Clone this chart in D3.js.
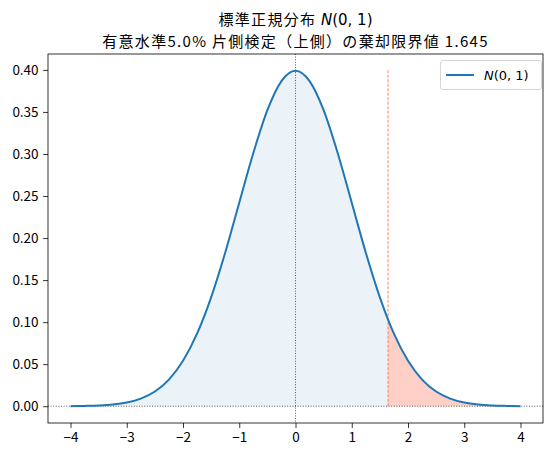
<!DOCTYPE html>
<html>
<head>
<meta charset="utf-8">
<style>
  body { margin: 0; background: #fff; }
  svg text { font-family: "Noto Sans CJK JP", sans-serif; fill: #000; }
  .math { font-family: "DejaVu Sans", sans-serif; }
</style>
</head>
<body>
<svg class="drawing"></svg>
<script src="https://d3js.org/d3.v7.min.js"></script>
<script>
// values (standard normal density)
var xs = [-4, -3.75, -3.5, -3.25, -3, -2.75, -2.5, -2.25, -2, -1.75, -1.5, -1.25, -1, -0.75, -0.5, -0.25,
          0, 0.25, 0.5, 0.75, 1, 1.25, 1.5, 1.645, 1.75, 2, 2.25, 2.5, 2.75, 3, 3.25, 3.5, 3.75, 4];
var ys = [0.0001, 0.0004, 0.0009, 0.002, 0.0044, 0.0091, 0.0175, 0.0317, 0.054, 0.0863, 0.1295, 0.1826, 0.242, 0.3011, 0.3521, 0.3867,
          0.3989, 0.3867, 0.3521, 0.3011, 0.242, 0.1826, 0.1295, 0.1031, 0.0863, 0.054, 0.0317, 0.0175, 0.0091, 0.0044, 0.002, 0.0009, 0.0004, 0.0001];
var critical = 1.645;
var xTicks = [-4, -3, -2, -1, 0, 1, 2, 3, 4];
var yTicks = [0, 0.05, 0.10, 0.15, 0.20, 0.25, 0.30, 0.35, 0.40];

var w = 553, h = 456;
var axLeft = 48, axRight = 543, axTop = 54, axBottom = 423;
var blue = '#1f77b4';

var pts = xs.map(function(x, i) { return [x, ys[i]]; });

var svg = d3.select('.drawing').attr('width', w).attr('height', h);

var x = d3.scaleLinear().domain([-4.4, 4.4]).range([axLeft, axRight]);
var y = d3.scaleLinear().domain([-0.01995, 0.4189]).range([axBottom, axTop]);

var area = d3.area()
    .x(d => x(d[0]))
    .y0(y(0))
    .y1(d => y(d[1]))
    .curve(d3.curveMonotoneX);
var line = d3.line()
    .x(d => x(d[0]))
    .y(d => y(d[1]))
    .curve(d3.curveMonotoneX);

svg.append('path')
    .datum(pts.filter(d => d[0] <= critical))
    .attr('d', area)
    .attr('fill', blue)
    .attr('fill-opacity', 0.09);
svg.append('path')
    .datum(pts.filter(d => d[0] >= critical))
    .attr('d', area)
    .attr('fill', 'tomato')
    .attr('fill-opacity', 0.3);

// reference lines
svg.append('line')
    .attr('x1', axLeft).attr('x2', axRight)
    .attr('y1', y(0)).attr('y2', y(0))
    .attr('stroke', '#333').attr('stroke-width', 0.8)
    .attr('stroke-dasharray', '1,1.6');
svg.append('line')
    .attr('x1', x(0)).attr('x2', x(0))
    .attr('y1', axTop).attr('y2', axBottom)
    .attr('stroke', '#333').attr('stroke-width', 0.8)
    .attr('stroke-dasharray', '1,1.6');
svg.append('line')
    .attr('x1', x(critical)).attr('x2', x(critical))
    .attr('y1', y(0)).attr('y2', y(0.40))
    .attr('stroke', 'tomato').attr('stroke-width', 0.8)
    .attr('stroke-dasharray', '3,1.5');

svg.append('path')
    .datum(pts)
    .attr('d', line)
    .attr('fill', 'none')
    .attr('stroke', blue)
    .attr('stroke-width', 2);

// axes
var xAxis = svg.append('g')
    .attr('transform', 'translate(0,' + axBottom + ')')
    .call(d3.axisBottom(x).tickValues(xTicks).tickSize(4.9).tickPadding(4.5)
        .tickFormat(d => d < 0 ? '\u2212' + Math.abs(d) : d));
var yAxis = svg.append('g')
    .attr('transform', 'translate(' + axLeft + ',0)')
    .call(d3.axisLeft(y).tickValues(yTicks).tickSize(4.9).tickPadding(4.5)
        .tickFormat(d3.format('.2f')));
[xAxis, yAxis].forEach(function(g) {
    g.select('.domain').remove();
    g.selectAll('.tick line').attr('stroke', '#000').attr('stroke-width', 0.8);
    g.selectAll('.tick text').style('font-size', '13.5px').style('font-family', '"Noto Sans CJK JP", sans-serif');
});

svg.append('rect')
    .attr('x', axLeft).attr('y', axTop)
    .attr('width', axRight - axLeft).attr('height', axBottom - axTop)
    .attr('fill', 'none').attr('stroke', '#000').attr('stroke-width', 0.8);

// title
var cx = (axLeft + axRight) / 2;
var t1 = svg.append('text').attr('x', cx).attr('y', 24.5)
    .attr('text-anchor', 'middle').style('font-size', '15px');
t1.append('tspan').style('letter-spacing', '1.3px').text('標準正規分布 ');
t1.append('tspan').attr('class', 'math').style('font-style', 'italic').text('N');
t1.append('tspan').attr('class', 'math').text('(0, 1)');
svg.append('text').attr('x', cx).attr('y', 46.5)
    .attr('text-anchor', 'middle').style('font-size', '15px')
    .style('letter-spacing', '1.3px')
    .text('有意水準5.0% 片側検定（上側）の棄却限界値 1.645');

// legend
var lg = svg.append('g');
lg.append('rect')
    .attr('x', 440.5).attr('y', 60.5).attr('width', 101).attr('height', 29).attr('rx', 2.5)
    .attr('fill', '#fff').attr('fill-opacity', 0.8)
    .attr('stroke', '#ccc').attr('stroke-width', 0.8);
lg.append('line')
    .attr('x1', 446).attr('x2', 474).attr('y1', 75).attr('y2', 75)
    .attr('stroke', blue).attr('stroke-width', 2);
var lt = lg.append('text').attr('x', 484).attr('y', 80).style('font-size', '13px');
lt.append('tspan').attr('class', 'math').style('font-style', 'italic').text('N');
lt.append('tspan').attr('class', 'math').text('(0, 1)');
</script>
</body>
</html>
